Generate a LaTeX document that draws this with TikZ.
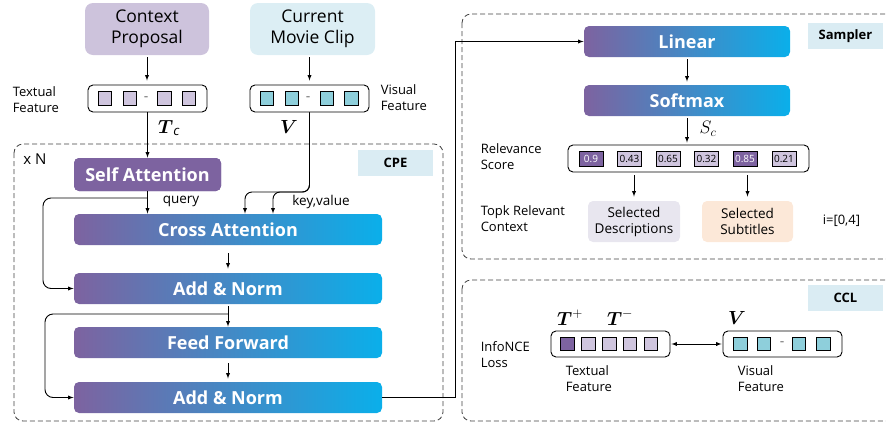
\RequirePackage{fix-cm}
\documentclass[tikz,border=0pt]{standalone}
\usepackage{amsmath}
\usepackage{fontspec}
\setmainfont{Open Sans}
\usetikzlibrary{}

\definecolor{purp}{HTML}{7D63A0}
\definecolor{skyb}{HTML}{0AAFEA}
\definecolor{lavbox}{HTML}{CDC3DC}
\definecolor{icebox}{HTML}{DCEEF4}
\definecolor{lavsq}{HTML}{CFC5DE}
\definecolor{tealsq}{HTML}{8ECFDB}
\definecolor{descbox}{HTML}{E8E6EF}
\definecolor{subtbox}{HTML}{FCE8D8}
\definecolor{tagbox}{HTML}{DAECF3}
\definecolor{frame}{HTML}{404040}

\newcommand{\symsize}{\fontsize{19}{22}\selectfont}

\begin{document}
\begin{tikzpicture}[x=1pt,y=-1pt,>=latex,line width=0.9pt,
  block/.style={rounded corners=5pt,left color=purp,right color=skyb,text=white,
    font=\fontsize{18}{20}\selectfont\bfseries,minimum height=31pt,inner sep=0pt},
  inbox/.style={rounded corners=8pt,text=black,font=\fontsize{17.5}{21}\selectfont,
    align=center,inner sep=0pt},
  featbox/.style={draw,rounded corners=5pt,minimum height=27pt,inner sep=0pt},
  tsq/.style={draw,line width=0.8pt,fill=lavsq,minimum size=13.5pt,inner sep=0pt},
  vsq/.style={draw,line width=0.8pt,fill=tealsq,minimum size=13.5pt,inner sep=0pt},
  cell/.style={draw,line width=0.8pt,fill=lavsq,minimum width=24pt,minimum height=15pt,inner sep=0pt,
    font=\fontsize{10}{12}\selectfont},
  lbl/.style={anchor=west,align=left,font=\fontsize{13}{16}\selectfont},
  tag/.style={fill=tagbox,font=\fontsize{13}{15}\selectfont\bfseries,inner sep=0pt},
  part/.style={draw=frame,line width=0.8pt,dash pattern=on 5pt off 3pt,rounded corners=9pt},
  dots/.style={font=\fontsize{8}{8}\selectfont,inner sep=0pt}]
  \clip (0,0) rectangle (886,426);

  % inputs
  \node[inbox,fill=lavbox,minimum width=124pt,minimum height=52pt] (ctx) at (147,29) {Context\\Proposal};
  \node[inbox,fill=icebox,minimum width=125pt,minimum height=52pt] (clip) at (312.5,29) {Current\\Movie Clip};

  \node[featbox,minimum width=119pt] (tfeat) at (147.5,98.5) {};
  \node[tsq] (ta) at (105,98.5) {};
  \node[tsq] (tb) at (130,98.5) {};
  \node[dots] (td) at (146,98) {--};
  \node[tsq] (tc) at (164.5,98.5) {};
  \node[tsq] (te) at (189,98.5) {};
  \node[featbox,minimum width=119pt] (vfeat) at (309.5,98.5) {};
  \node[vsq] (va) at (267,98.5) {};
  \node[vsq] (vb) at (292,98.5) {};
  \node[dots] (vd) at (308,98) {--};
  \node[vsq] (vc) at (327,98.5) {};
  \node[vsq] (ve) at (351.5,98.5) {};
  \node[lbl] (tlbl) at (9,100) {Textual\\Feature};
  \node[lbl] (vlbl) at (377,98) {Visual\\Feature};
  \node (tcsym) at (169,128) {\symsize$\boldsymbol{T}_{\mathit{c}}$};
  \node (vsym) at (289,127) {\symsize$\boldsymbol{V}$};

  \draw[->,shorten <=2pt,shorten >=4pt] (ctx.south) -- (ctx.south |- tfeat.north);
  \draw[->,shorten <=2pt,shorten >=4pt] (clip.south -| vfeat) -- (vfeat.north);

  % CPE
  \draw[part] (14,144) rectangle (443,421);
  \node[font=\fontsize{15}{17}\selectfont] (xn) at (35,159) {x N};
  \node[tag,minimum width=75pt,minimum height=26pt] (cpe) at (395.5,163) {CPE};

  \node[block,fill=purp,left color=purp,right color=purp,minimum width=147pt,minimum height=33pt] (self) at (147.5,174.5) {Self Attention};
  \node[block,minimum width=308pt] (cross) at (228,229.5) {Cross Attention};
  \node[block,minimum width=308pt] (add1) at (228,288.5) {Add \& Norm};
  \node[block,minimum width=308pt] (ff) at (228,342.5) {Feed Forward};
  \node[block,minimum width=308pt] (add2) at (228,397.5) {Add \& Norm};

  \coordinate (qsplit) at (147.5,198);
  \coordinate (kvleft) at (245,192);
  \coordinate (kvright) at (273,192);
  \coordinate (ffsplit) at (228,314);

  \draw[->] (tfeat.south) -- (self.north);
  \draw[->] (self.south) -- (self.south |- cross.north);
  \node[font=\fontsize{13.5}{15}\selectfont] (qlbl) at (181,201) {query};
  \draw[->,rounded corners=8pt] (qsplit) -| (43,250) |- (add1.west);
  \draw[->,rounded corners=7pt] (vfeat.south) |- (kvleft) -- (kvleft |- cross.north);
  \draw[->,rounded corners=7pt] (vfeat.south) |- (kvright) -- (kvright |- cross.north);
  \node[font=\fontsize{13.5}{15}\selectfont] (kvlbl) at (321,202) {key,value};

  \draw[->,shorten <=8pt,shorten >=4pt] (cross.south) -- (add1.north);
  \draw[->,shorten <=2pt] (add1.south) -- (ff.north);
  \draw[->,rounded corners=8pt] (ffsplit) -| (45,360) |- (add2.west);
  \draw[->,shorten <=5pt,shorten >=3pt] (ff.south) -- (add2.north);

  % Sampler
  \draw[part] (462,14) rectangle (895,259);
  \node[tag,minimum width=75pt,minimum height=26pt] (smp) at (845.5,36) {Sampler};
  \node[block,minimum width=206pt] (lin) at (687,41.5) {Linear};
  \node[block,minimum width=206pt] (soft) at (687,100.5) {Softmax};
  \coordinate (bend) at (455,41.5);
  \draw[->] (add2.east) -| (bend) -- (lin.west);
  \draw[->,shorten <=2pt,shorten >=3pt] (lin.south) -- (soft.north);

  \node[featbox,minimum width=241pt] (score) at (688.5,158.5) {};
  \node[cell,fill=purp,text=white] (s1) at (591,158.5) {0.9};
  \node[cell] (s2) at (629.5,158.5) {0.43};
  \node[cell] (s3) at (668,158.5) {0.65};
  \node[cell] (s4) at (706.5,158.5) {0.32};
  \node[cell,fill=purp,text=white] (s5) at (745,158.5) {0.85};
  \node[cell] (s6) at (784,158.5) {0.21};
  \draw[->,shorten <=2pt,shorten >=2pt] (soft.south) -- (soft.south |- score.north);
  \node (sc) at (708,129) {\fontsize{18}{20}\selectfont$S_c$};
  \node[lbl] (rlbl) at (477,157) {Relevance\\Score};

  \node[inbox,fill=descbox,minimum width=92pt,minimum height=41pt,rounded corners=5pt,
    font=\fontsize{13.5}{16}\selectfont] (desc) at (634,221.5) {Selected\\Descriptions};
  \node[inbox,fill=subtbox,minimum width=91pt,minimum height=41pt,rounded corners=5pt,
    font=\fontsize{13.5}{16}\selectfont] (subt) at (747.5,221.5) {Selected\\Subtitles};
  \draw[->,shorten <=3pt,shorten >=4pt] (score.south -| desc) -- (desc.north);
  \draw[->,shorten <=3pt,shorten >=4pt] (score.south -| subt) -- (subt.north);
  \node[lbl] (klbl) at (477,219) {Topk Relevant\\Context};
  \node[lbl] (ilbl) at (819,221) {i=[0,4]};

  % CCL
  \draw[part] (462,280) rectangle (895,421);
  \node[tag,minimum width=75pt,minimum height=26pt] (ccl) at (845.5,298) {CCL};
  \node[lbl] (nlbl) at (477,355) {InfoNCE\\Loss};
  \node[featbox,minimum width=119pt,minimum height=26pt] (tfeat2) at (610.5,344) {};
  \node[tsq,fill=purp] (pa) at (567.5,344) {};
  \node[tsq] (pb) at (588.5,344) {};
  \node[tsq] (pc) at (609.5,344) {};
  \node[tsq] (pd) at (630,344) {};
  \node[tsq] (pe) at (651,344) {};
  \node[featbox,minimum width=119pt,minimum height=26pt] (vfeat2) at (782.5,344) {};
  \node[vsq] (qa) at (740.5,344) {};
  \node[vsq] (qb) at (764,344) {};
  \node[dots] (qd) at (782,343.5) {--};
  \node[vsq] (qc) at (799,344) {};
  \node[vsq] (qe) at (823.5,344) {};
  \draw[<->,shorten <=1pt,shorten >=1pt] (tfeat2.east) -- (vfeat2.west);
  \node (tplus) at (570,318) {\symsize$\boldsymbol{T}^{+}$};
  \node (tminus) at (620,318) {\symsize$\boldsymbol{T}^{-}$};
  \node (vsym2) at (737,318) {\symsize$\boldsymbol{V}$};
  \node[lbl] (tlbl2) at (562,379) {Textual\\Feature};
  \node[lbl] (vlbl2) at (734,379) {Visual\\Feature};
\end{tikzpicture}
\end{document}
